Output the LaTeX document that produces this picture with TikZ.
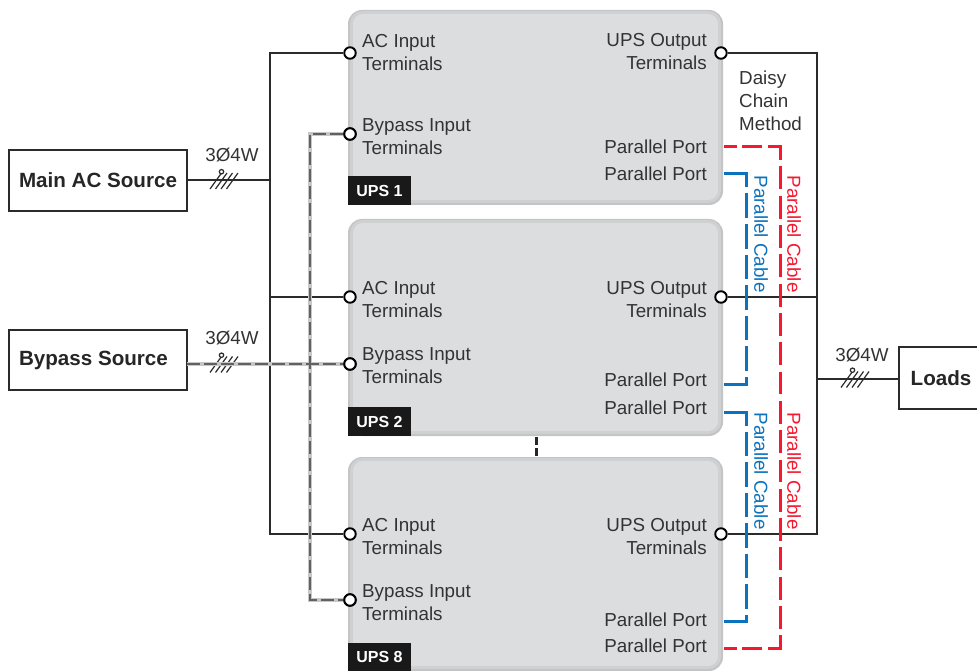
\documentclass[tikz,border=0pt]{standalone}
\usepackage{fontspec}
\setmainfont{Liberation Sans}
\definecolor{wirec}{HTML}{2B2B2B}
\definecolor{txtc}{HTML}{333333}
\definecolor{upsout}{HTML}{C3C4C6}
\definecolor{upsmid}{HTML}{CFD0D2}
\definecolor{upsin}{HTML}{DCDDDF}
\definecolor{redc}{HTML}{F5182E}
\definecolor{bluec}{HTML}{0B72BD}
\newcommand{\upsbox}[3]{%
  \node[upsbody,minimum width=375pt,minimum height=#3 pt] (#1) at (535.5,#2) {};
  \node[upsmiddle,minimum width=371pt,minimum height=#3 pt-3pt] at (535.5,#2-0.5) {};
  \node[upsface,minimum width=365pt,minimum height=#3 pt-9pt] at (535.5,#2-0.5) {};
}
\tikzset{
  x=1pt,y=-1pt,
  wire/.style={draw=wirec,line width=2pt},
  bypassbase/.style={draw=black!22,line width=3.6pt},
  bypassdash/.style={draw=black!62,line width=2.2pt,dash pattern=on 13pt off 4pt},
  redend/.style={draw=redc,line width=3pt,dash pattern=on 13pt off 5pt on 20pt off 6pt on 26pt off 100pt},
  redcable/.style={draw=redc,line width=3pt,dash pattern=on 22.8pt off 6.5pt},
  bluecable/.style={draw=bluec,line width=3pt,dash pattern=on 36pt off 6pt
     on 24.5pt off 6pt on 24.5pt off 6pt on 24.5pt off 6pt on 24.5pt off 6pt on 24.5pt off 6pt on 24.5pt off 6pt on 50pt off 50pt},
  srcbox/.style={draw=wirec,line width=2pt,fill=white,inner sep=0pt,font=\fontsize{20.6}{24}\selectfont\bfseries,text=black!85},
  upsbody/.style={rectangle,rounded corners=14pt,fill=upsout,inner sep=0pt},
  upsmiddle/.style={rectangle,rounded corners=12.5pt,fill=upsmid,inner sep=0pt},
  upsface/.style={rectangle,rounded corners=10pt,fill=upsin,inner sep=0pt},
  upstag/.style={fill=black!90,text=white,inner sep=0pt,minimum width=63pt,font=\fontsize{16}{18}\selectfont\bfseries},
  term/.style={circle,draw=black,fill=white,line width=1.9pt,minimum size=11.5pt,inner sep=0pt},
  lab/.style={inner sep=0pt,text=txtc,font=\fontsize{18.8}{23}\selectfont},
  labl/.style={lab,align=left,anchor=west},
  labr/.style={lab,align=right,anchor=east},
  cablelab/.style={inner sep=0pt,rotate=-90,font=\fontsize{18.8}{23}\selectfont},
  hatch/.pic={
    \draw[draw=wirec,line width=1.2pt]
      (-11.5,8.5)--(0,-7.5) (-6,8.5)--(5.5,-7.5) (-0.5,8.5)--(11,-7.5) (5,8.5)--(16.5,-7.5);
    \draw[draw=wirec,line width=1.2pt,fill=white] (0,-8.8) circle (2.2);
  }
}
\begin{document}
\begin{tikzpicture}
\clip (0,0) rectangle (977,671);
% sources
\node[srcbox,minimum width=178pt,minimum height=61pt] (main) at (98,180.5) {Main AC Source};
\node[srcbox,minimum width=178pt,minimum height=60pt] (byp) at (98,360) {\hspace*{-9pt}Bypass Source};
\node[srcbox,minimum width=90pt,minimum height=62pt] (loads) at (944,378) {\hspace*{-6pt}Loads};
% UPS bodies
\upsbox{u1}{107.5}{195}
\upsbox{u2}{327.5}{217}
\upsbox{u8}{564}{214}
\node[upstag,minimum height=29pt] (t1) at (379.5,190.5) {UPS 1};
\node[upstag,minimum height=29pt] (t2) at (379.5,421.5) {UPS 2};
\node[upstag,minimum height=28pt] (t8) at (379.5,657) {UPS 8};
% terminals
\node[term] (a1) at (350,53) {};
\node[term] (a2) at (350,297) {};
\node[term] (a8) at (350,534) {};
\node[term] (b1) at (350,134) {};
\node[term] (b2) at (350,364) {};
\node[term] (b8) at (350,600) {};
\node[term] (o1) at (721,53) {};
\node[term] (o2) at (721,297) {};
\node[term] (o8) at (721,534) {};
% bus points
\coordinate (ibT) at (269.5,53);
\coordinate (ibM) at (269.5,297);
\coordinate (ibB) at (269.5,534);
\coordinate (ibS) at (269.5,180.5);
\coordinate (pbT) at (310,134);
\coordinate (pbB) at (310,600);
\coordinate (obT) at (817,53);
\coordinate (obM) at (817,297);
\coordinate (obB) at (817,534);
\coordinate (obL) at (817,379);
\coordinate (mainE) at (187,180.5);
\coordinate (bypE) at (187,364);
\coordinate (loadW) at (899,379);
% input wiring
\draw[wire] (mainE) -- (ibS);
\draw[wire] (a1) -- (ibT) -- (ibB) -- (a8);
\draw[wire] (ibM) -- (a2);
\draw[wire] (o1) -- (obT) -- (obB) -- (o8);
\draw[wire] (o2) -- (obM);
\draw[wire] (obL) -- (loadW);
\pic at (221.5,180.5) {hatch};
\pic at (221.5,364) {hatch};
\pic at (852.5,379) {hatch};
% bypass wiring
\draw[bypassbase] (b1) -- (pbT) -- (pbB) -- (b8);
\draw[bypassbase] (bypE) -- (b2);
\draw[bypassdash] (b1) -- (pbT) -- (pbB) -- (b8);
\draw[bypassdash] (bypE) -- (b2);
\node[term] at (b1) {};
\node[term] at (b2) {};
\node[term] at (b8) {};
% link between UPS 2 and UPS 8
\coordinate (gapT) at (536,437);
\coordinate (gapB) at (536,456);
\draw[draw=black!85,line width=3pt,dash pattern=on 8pt off 3pt] (gapT) -- (gapB);
% parallel cables
\coordinate (r1) at (724,147); \coordinate (r2) at (780,147);
\coordinate (r3) at (780,648); \coordinate (r4) at (724,648);
\coordinate (r5) at (780,160); \coordinate (r6) at (780,635);
\coordinate (r7) at (780,166.5); \coordinate (r8) at (780,628.5);
\draw[redend] (r1) -- (r2) -- (r5);
\draw[redcable] (r7) -- (r8);
\draw[redend] (r4) -- (r3) -- (r6);
\coordinate (c1) at (724,174); \coordinate (c2) at (746.5,174);
\coordinate (c3) at (746.5,384); \coordinate (c4) at (724,384);
\draw[bluecable] (c1) -- (c2) -- (c3) -- (c4);
\coordinate (d1) at (724,412); \coordinate (d2) at (746.5,412);
\coordinate (d3) at (746.5,621); \coordinate (d4) at (724,621);
\draw[bluecable] (d1) -- (d2) -- (d3) -- (d4);
% labels
\node[labl] at (362,53) {AC Input\\Terminals};
\node[labl] at (362,137) {Bypass Input\\Terminals};
\node[labl] at (362,300) {AC Input\\Terminals};
\node[labl] at (362,366) {Bypass Input\\Terminals};
\node[labl] at (362,537) {AC Input\\Terminals};
\node[labl] at (362,603) {Bypass Input\\Terminals};
\node[labr] at (707,52) {UPS Output\\Terminals};
\node[labr] at (707,300) {UPS Output\\Terminals};
\node[labr] at (707,537) {UPS Output\\Terminals};
\node[labr] at (707,147) {Parallel Port};
\node[labr] at (707,174) {Parallel Port};
\node[labr] at (707,380) {Parallel Port};
\node[labr] at (707,408) {Parallel Port};
\node[labr] at (707,620) {Parallel Port};
\node[labr] at (707,646) {Parallel Port};
\node[labl] at (739,101) {Daisy\\Chain\\Method};
\node[lab] at (232,155) {3Ø4W};
\node[lab] at (232,338) {3Ø4W};
\node[lab] at (862,355) {3Ø4W};
\node[cablelab,text=redc] at (794,234) {Parallel Cable};
\node[cablelab,text=redc] at (794,471) {Parallel Cable};
\node[cablelab,text=bluec] at (761,234) {Parallel Cable};
\node[cablelab,text=bluec] at (761,471) {Parallel Cable};
\end{tikzpicture}
\end{document}
